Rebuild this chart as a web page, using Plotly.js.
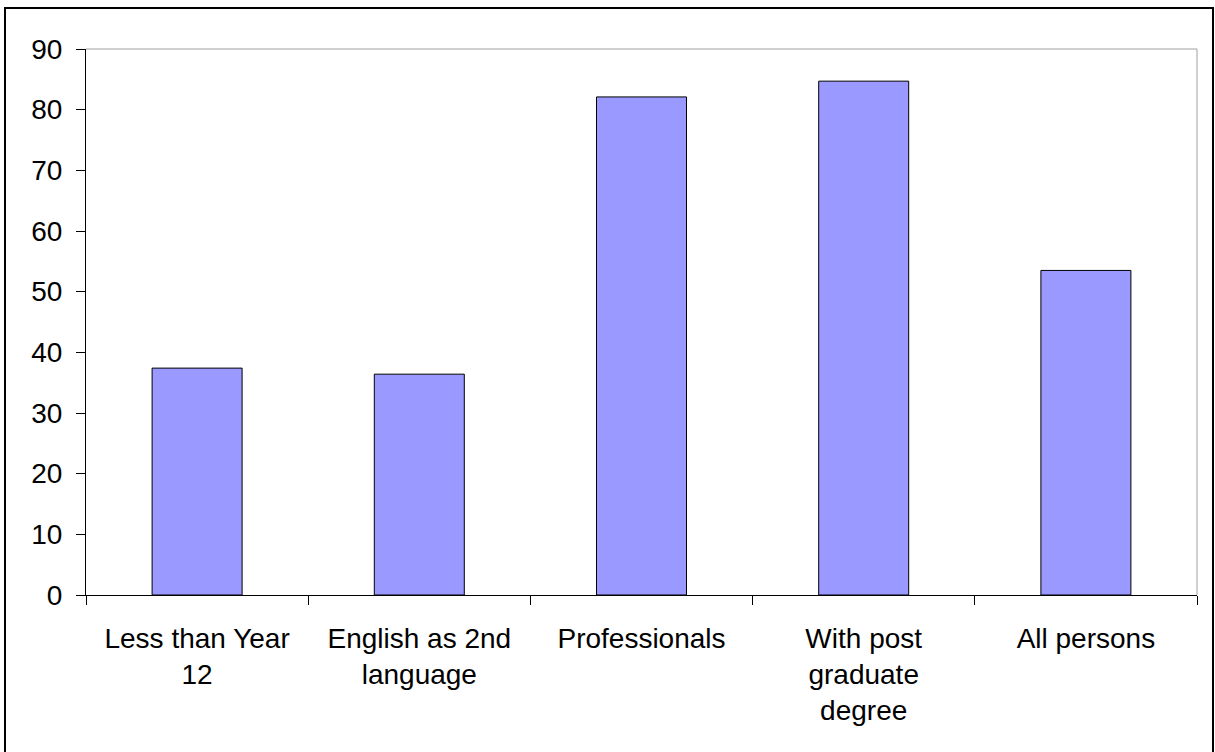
<!DOCTYPE html>
<html>
<head>
<meta charset="utf-8">
<script src="https://cdn.plot.ly/plotly-3.0.1.min.js"></script>
<style>
  html, body { margin: 0; padding: 0; background: #fff; }
  #wrap { position: relative; width: 1215px; height: 752px; overflow: hidden; }
  #chart { position: absolute; left: 0; top: 0; width: 1215px; height: 752px; }
  #frame { position: absolute; left: 4px; top: 7px; width: 1206px; height: 760px;
           border: 2px solid #000; pointer-events: none; }
</style>
</head>
<body>
<div id="wrap">
  <div id="chart"></div>
  <div id="frame"></div>
</div>
<script>
const categories = [
  "Less than Year<br>12",
  "English as 2nd<br>language",
  "Professionals",
  "With post<br>graduate<br>degree",
  "All persons"
];
const values = [37.4, 36.4, 82.1, 84.7, 53.5];

const trace = {
  type: "bar",
  x: categories,
  y: values,
  marker: { color: "#9999ff", line: { color: "#000000", width: 1 } },
  hoverinfo: "x+y"
};

const font = { family: "Liberation Sans, Arial, sans-serif", size: 28, color: "#000" };

const layout = {
  width: 1215,
  height: 752,
  margin: { l: 86, r: 18, t: 49, b: 157 },
  paper_bgcolor: "#ffffff",
  plot_bgcolor: "#ffffff",
  bargap: 0.595,
  showlegend: false,
  font: font,
  xaxis: {
    type: "category",
    tickson: "boundaries",
    ticks: "outside",
    ticklen: 9,
    tickcolor: "#000",
    tickwidth: 1,
    showline: true,
    linecolor: "#000",
    linewidth: 1,
    showgrid: false,
    zeroline: false,
    tickfont: font,
    ticklabelstandoff: 18,
    automargin: false
  },
  yaxis: {
    range: [0, 90],
    dtick: 10,
    tick0: 0,
    ticks: "outside",
    ticklen: 9,
    tickcolor: "#000",
    tickwidth: 1,
    showline: true,
    linecolor: "#000",
    linewidth: 1,
    showgrid: false,
    zeroline: false,
    tickfont: font,
    ticklabelstandoff: 8,
    automargin: false
  },
  shapes: [
    { type: "line", xref: "paper", yref: "paper", x0: 0, x1: 1, y0: 1, y1: 1,
      line: { color: "#a0a0a0", width: 1 } },
    { type: "line", xref: "paper", yref: "paper", x0: 1, x1: 1, y0: 0, y1: 1,
      line: { color: "#a0a0a0", width: 1 } }
  ]
};

Plotly.newPlot("chart", [trace], layout, { displayModeBar: false, staticPlot: true });
</script>
</body>
</html>
